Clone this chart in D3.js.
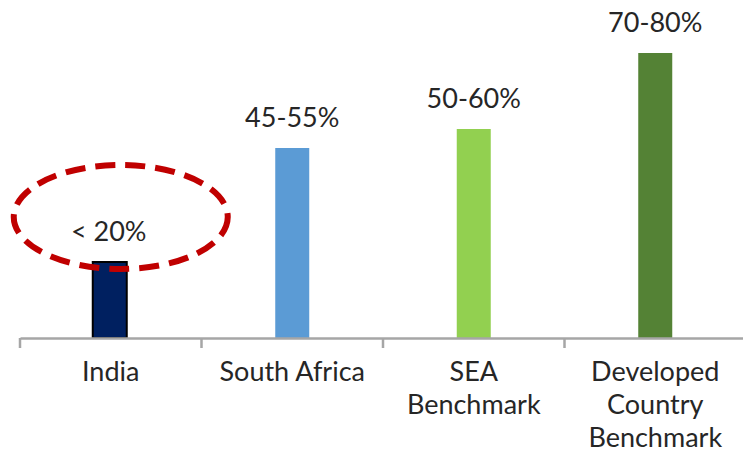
<!DOCTYPE html>
<html><head><meta charset="utf-8">
<script src="https://cdn.jsdelivr.net/npm/d3@7"></script>
<style>
body{margin:0;background:#fff;}
svg{display:block;}
text{font-family:Lato, "Open Sans", sans-serif;fill:#262626;}
</style></head><body>
<svg id="c" width="743" height="454"></svg>
<script>
const categories = ["India", "South Africa", "SEA\nBenchmark", "Developed\nCountry\nBenchmark"];
const values = [20, 50, 55, 75];
const valueLabels = ["< 20%", "45-55%", "50-60%", "70-80%"];
const colors = ["#002060", "#5B9BD5", "#92D050", "#548235"];

const svg = d3.select("#c");
const baseY = 338, left = 20, right = 746;
const x = d3.scaleBand().domain(categories).range([left, right]).paddingInner(0).paddingOuter(0);
const y = d3.scaleLinear().domain([0, 75]).range([baseY, 53]);
const barW = 34;

// bars
svg.selectAll("rect.bar").data(categories).enter().append("rect")
  .attr("class","bar")
  .attr("x", d => x(d) + x.bandwidth()/2 - barW/2 + (d==="India"? -1 : 0))
  .attr("y", (d,i) => y(values[i]))
  .attr("width", barW)
  .attr("height", (d,i) => baseY - y(values[i]))
  .attr("fill", (d,i) => colors[i])
  .attr("stroke", (d,i) => i===0 ? "#000" : "none")
  .attr("stroke-width", 2);

// axis
const axis = d3.axisBottom(x).tickSize(0).tickFormat("");
const g = svg.append("g").attr("transform", `translate(0,${baseY})`).call(axis);
g.select(".domain").attr("stroke","#a6a6a6").attr("stroke-width",2.5);
// category boundary ticks
const bounds = categories.map(c => x(c));
svg.selectAll("line.tk").data(bounds).enter().append("line")
  .attr("x1", d=>d).attr("x2", d=>d).attr("y1", baseY).attr("y2", baseY+10)
  .attr("stroke","#a6a6a6").attr("stroke-width",2.5);

// category labels
categories.forEach((c,i) => {
  const lines = c.split("\n");
  const t = svg.append("text").attr("text-anchor","middle").attr("font-size",27);
  lines.forEach((ln,j) => {
    t.append("tspan").attr("x", x(c)+x.bandwidth()/2).attr("y", 381 + j*33).text(ln);
  });
});

// value labels
svg.selectAll("text.val").data(categories).enter().append("text")
  .attr("class","val")
  .attr("text-anchor","middle")
  .attr("font-size",27)
  .attr("x", d => x(d)+x.bandwidth()/2 + (d==="India"?-2:0))
  .attr("y", (d,i) => y(values[i]) - 21)
  .text((d,i) => valueLabels[i]);

// dashed ellipse highlight around India
svg.append("ellipse")
  .attr("cx", x("India") + x.bandwidth()/2 + 10)
  .attr("cy", 217).attr("rx", 107).attr("ry", 52)
  .attr("fill","none").attr("stroke","#C00000").attr("stroke-width",6)
  .attr("stroke-dasharray","20,10");
</script>
</body></html>
